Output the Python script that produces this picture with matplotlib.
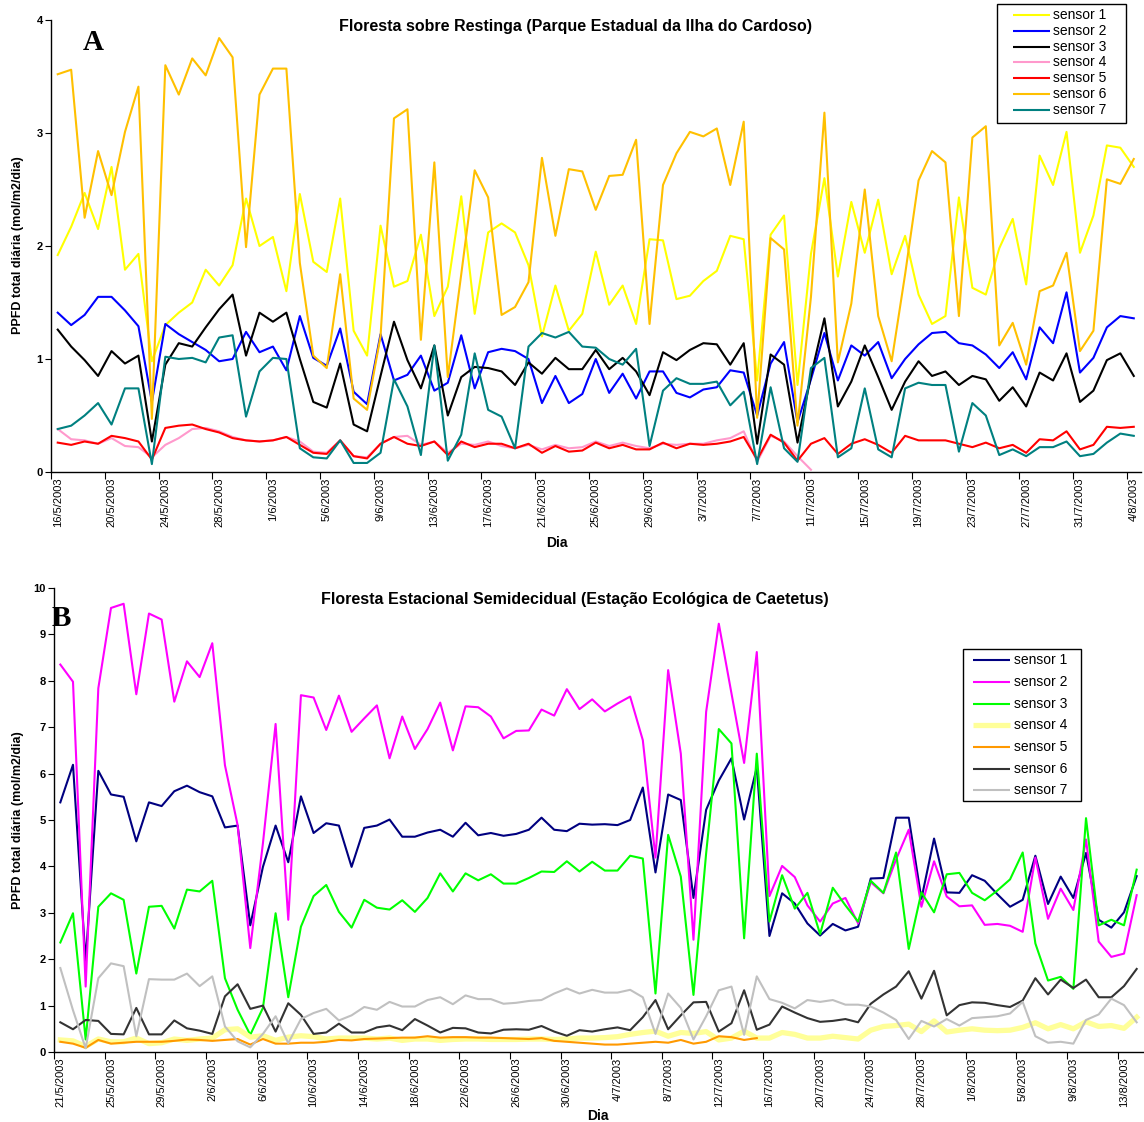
import matplotlib
matplotlib.use('Agg')
import matplotlib.pyplot as plt
from matplotlib.patches import Rectangle
import numpy as np
import pandas as pd

plt.rcParams['font.family'] = ['Liberation Sans', 'DejaVu Sans']

NAN = np.nan

# ---- Panel A: Floresta sobre Restinga, 16/5/2003 .. 4/8/2003 ----
dates_a = pd.date_range('2003-05-16', '2003-08-04', freq='D')

a_s1 = [1.92, 2.17, 2.47, 2.15, 2.70, 1.79, 1.93, 0.98, 1.30, 1.41, 1.50, 1.79, 1.65, 1.83, 2.42, 2.00,
        2.08, 1.60, 2.46, 1.86, 1.77, 2.42, 1.25, 1.03, 2.18, 1.64, 1.69, 2.10,
        1.38, 1.64, 2.44, 1.40, 2.12, 2.20, 2.12, 1.83, 1.20, 1.65, 1.25, 1.40, 1.95, 1.48, 1.65, 1.31,
        2.06, 2.05, 1.53, 1.56, 1.69, 1.78, 2.09, 2.06, 0.81, 2.10,
        2.27, 0.77, 1.93, 2.60, 1.73, 2.39, 1.94, 2.41, 1.75, 2.09, 1.57, 1.31, 1.38, 2.43, 1.63, 1.57,
        1.98, 2.24, 1.66, 2.80, 2.54, 3.01, 1.94, 2.27, 2.89, 2.87, 2.70]
a_s2 = [1.41, 1.30, 1.39, 1.55, 1.55, 1.43, 1.29, 0.62, 1.31, 1.22, 1.15, 1.08, 0.98, 1.00, 1.24, 1.06,
        1.11, 0.90, 1.38, 1.01, 0.94, 1.27, 0.71, 0.60, 1.22, 0.81, 0.86, 1.03,
        0.72, 0.79, 1.21, 0.74, 1.06, 1.09, 1.07, 1.00, 0.61, 0.85, 0.61, 0.69, 1.00, 0.70, 0.87, 0.65,
        0.89, 0.89, 0.70, 0.66, 0.73, 0.75, 0.90, 0.88, 0.50, 0.96,
        1.15, 0.44, 0.82, 1.23, 0.81, 1.12, 1.03, 1.15, 0.83, 1.00, 1.13, 1.23, 1.24, 1.14, 1.12, 1.04,
        0.92, 1.06, 0.82, 1.28, 1.14, 1.59, 0.88, 1.01, 1.28, 1.38, 1.36]
a_s3 = [1.26, 1.11, 0.99, 0.85, 1.07, 0.96, 1.03, 0.27, 0.95, 1.14, 1.11, 1.28, 1.44, 1.57, 1.03, 1.41,
        1.33, 1.41, 1.00, 0.62, 0.57, 0.96, 0.42, 0.36, 0.85, 1.33, 0.99, 0.74,
        1.12, 0.50, 0.84, 0.93, 0.92, 0.89, 0.77, 0.97, 0.87, 1.01, 0.91, 0.91, 1.08, 0.91, 1.01, 0.89,
        0.68, 1.06, 0.99, 1.08, 1.14, 1.13, 0.95, 1.14, 0.25, 1.04,
        0.95, 0.26, 0.85, 1.36, 0.58, 0.80, 1.12, 0.84, 0.55, 0.80, 0.98, 0.85, 0.89, 0.77, 0.85, 0.82,
        0.63, 0.75, 0.58, 0.88, 0.81, 1.05, 0.62, 0.72, 0.99, 1.05, 0.85]
a_s4 = [0.38, 0.29, 0.28, 0.25, 0.30, 0.23, 0.22, 0.13, 0.24, 0.30, 0.38, 0.39, 0.36, 0.31, 0.28, 0.27,
        0.28, 0.31, 0.27, 0.18, 0.17, 0.28, 0.14, 0.13, 0.25, 0.31, 0.32, 0.24,
        0.27, 0.17, 0.25, 0.24, 0.27, 0.23, 0.21, 0.24, 0.20, 0.24, 0.21, 0.22, 0.27, 0.23, 0.26, 0.23,
        0.21, 0.25, 0.24, 0.25, 0.25, 0.28, 0.30, 0.36, 0.09, 0.32,
        0.27, 0.14, 0.02] + [NAN] * 24
a_s5 = [0.26, 0.24, 0.27, 0.25, 0.32, 0.30, 0.27, 0.11, 0.39, 0.41, 0.42, 0.38, 0.35, 0.30, 0.28, 0.27,
        0.28, 0.31, 0.24, 0.17, 0.16, 0.28, 0.14, 0.12, 0.25, 0.31, 0.25, 0.23,
        0.27, 0.15, 0.27, 0.22, 0.25, 0.25, 0.21, 0.25, 0.17, 0.23, 0.18, 0.19, 0.26, 0.21, 0.24, 0.20,
        0.20, 0.26, 0.21, 0.25, 0.24, 0.25, 0.27, 0.31, 0.11, 0.33,
        0.26, 0.10, 0.25, 0.30, 0.16, 0.25, 0.29, 0.24, 0.17, 0.32, 0.28, 0.28, 0.28, 0.25, 0.22, 0.26,
        0.21, 0.24, 0.17, 0.29, 0.28, 0.36, 0.20, 0.24, 0.40, 0.39, 0.40]
a_s6 = [3.52, 3.56, 2.25, 2.84, 2.45, 3.01, 3.41, 0.47, 3.60, 3.34, 3.66, 3.51, 3.84, 3.67, 1.99, 3.34,
        3.57, 3.57, 1.85, 1.03, 0.92, 1.75, 0.65, 0.55, 1.20, 3.13, 3.21, 1.17,
        2.74, 0.84, 1.75, 2.67, 2.43, 1.39, 1.46, 1.68, 2.78, 2.09, 2.68, 2.66, 2.32, 2.62, 2.63, 2.94,
        1.31, 2.54, 2.82, 3.01, 2.97, 3.04, 2.54, 3.10, 0.48, 2.07,
        1.97, 0.41, 1.55, 3.18, 0.97, 1.49, 2.50, 1.38, 0.98, 1.75, 2.58, 2.84, 2.74, 1.38, 2.96, 3.06,
        1.12, 1.32, 0.95, 1.60, 1.65, 1.94, 1.07, 1.25, 2.59, 2.55, 2.77]
a_s7 = [0.38, 0.41, 0.50, 0.61, 0.42, 0.74, 0.74, 0.07, 1.02, 1.00, 1.01, 0.97, 1.19, 1.21, 0.49, 0.89,
        1.01, 1.00, 0.21, 0.13, 0.12, 0.28, 0.08, 0.08, 0.17, 0.82, 0.58, 0.15,
        1.12, 0.10, 0.33, 1.05, 0.55, 0.49, 0.21, 1.11, 1.23, 1.19, 1.24, 1.11, 1.10, 1.00, 0.95, 1.09,
        0.23, 0.72, 0.83, 0.78, 0.78, 0.80, 0.59, 0.71, 0.07, 0.75,
        0.21, 0.09, 0.92, 1.01, 0.13, 0.21, 0.74, 0.20, 0.13, 0.74, 0.79, 0.77, 0.77, 0.18, 0.61, 0.50,
        0.15, 0.20, 0.14, 0.22, 0.22, 0.27, 0.14, 0.16, 0.26, 0.34, 0.32]

# ---- Panel B: Floresta Estacional Semidecidual, 21/5/2003 .. 14/8/2003 ----
dates_b = pd.date_range('2003-05-21', '2003-08-14', freq='D')

b_s1 = [5.38, 6.19, 1.95, 6.06, 5.55, 5.50, 4.54, 5.38, 5.30, 5.62, 5.74, 5.60, 5.51, 4.84, 4.88, 2.73,
        3.99, 4.88, 4.09, 5.51, 4.72, 4.93, 4.88, 3.99, 4.83, 4.88, 5.01, 4.64, 4.64,
        4.73, 4.79, 4.64, 4.94, 4.67, 4.72, 4.66, 4.70, 4.79, 5.05, 4.79, 4.76, 4.92, 4.90, 4.91, 4.89,
        5.00, 5.70, 3.87, 5.55, 5.43, 3.32, 5.22, 5.85, 6.33, 5.01, 6.13,
        2.50, 3.42, 3.20, 2.77, 2.51, 2.76, 2.62, 2.70, 3.74, 3.75, 5.05, 5.05, 3.30, 4.60, 3.44, 3.43,
        3.81, 3.69, 3.40, 3.13, 3.28, 4.23, 3.19, 3.78, 3.32, 4.29, 2.85, 2.68, 3.01, 3.79]
b_s2 = [8.35, 7.98, 1.41, 7.84, 9.57, 9.66, 7.71, 9.45, 9.32, 7.55, 8.42, 8.08, 8.81, 6.18, 4.89, 2.24,
        4.50, 7.07, 2.85, 7.69, 7.64, 6.94, 7.68, 6.90, 7.19, 7.47, 6.33, 7.23, 6.53,
        6.96, 7.53, 6.50, 7.45, 7.43, 7.23, 6.76, 6.92, 6.93, 7.38, 7.25, 7.82, 7.39, 7.60, 7.34, 7.51,
        7.66, 6.72, 4.19, 8.23, 6.43, 2.42, 7.33, 9.23, 7.73, 6.23, 8.62,
        3.36, 4.01, 3.77, 3.16, 2.81, 3.20, 3.32, 2.77, 3.66, 3.42, 4.15, 4.79, 3.13, 4.11, 3.35, 3.14,
        3.16, 2.74, 2.76, 2.72, 2.59, 4.19, 2.87, 3.52, 3.06, 4.58, 2.38, 2.05, 2.12, 3.38]
b_s3 = [2.36, 2.99, 0.27, 3.13, 3.42, 3.28, 1.69, 3.13, 3.15, 2.66, 3.50, 3.46, 3.69, 1.59, 0.91, 0.37,
        0.95, 2.99, 1.18, 2.70, 3.36, 3.60, 3.02, 2.68, 3.28, 3.11, 3.07, 3.27, 3.02,
        3.32, 3.85, 3.46, 3.85, 3.70, 3.83, 3.63, 3.63, 3.75, 3.89, 3.88, 4.11, 3.89, 4.10, 3.91, 3.91,
        4.23, 4.17, 1.26, 4.68, 3.78, 1.23, 4.28, 6.96, 6.65, 2.45, 6.43,
        2.81, 3.81, 3.09, 3.43, 2.54, 3.54, 3.16, 2.81, 3.69, 3.43, 4.30, 2.22, 3.44, 3.01, 3.83, 3.86,
        3.43, 3.27, 3.48, 3.72, 4.30, 2.34, 1.54, 1.62, 1.36, 5.04, 2.73, 2.85, 2.73, 3.93]
b_s4 = [0.26, 0.24, 0.12, 0.28, 0.22, 0.22, 0.30, 0.18, 0.20, 0.28, 0.25, 0.28, 0.30, 0.48, 0.50, 0.32,
        0.35, 0.25, 0.32, 0.35, 0.33, 0.28, 0.30, 0.30, 0.30, 0.28, 0.30, 0.25, 0.28,
        0.28, 0.25, 0.27, 0.28, 0.28, 0.27, 0.27, 0.27, 0.28, 0.28, 0.27, 0.28, 0.30, 0.30, 0.31, 0.33,
        0.38, 0.42, 0.45, 0.34, 0.42, 0.40, 0.44, 0.26, 0.30, 0.45, 0.30,
        0.30, 0.42, 0.38, 0.30, 0.30, 0.34, 0.31, 0.28, 0.47, 0.55, 0.57, 0.60, 0.44, 0.67, 0.43, 0.47,
        0.50, 0.47, 0.46, 0.47, 0.53, 0.63, 0.50, 0.59, 0.50, 0.65, 0.55, 0.57, 0.51, 0.75]
b_s5 = [0.22, 0.18, 0.09, 0.26, 0.18, 0.20, 0.22, 0.22, 0.22, 0.24, 0.27, 0.26, 0.24, 0.26, 0.28, 0.16,
        0.28, 0.18, 0.18, 0.20, 0.20, 0.22, 0.26, 0.25, 0.28, 0.29, 0.30, 0.31, 0.31,
        0.34, 0.31, 0.32, 0.32, 0.31, 0.31, 0.30, 0.29, 0.28, 0.30, 0.24, 0.22, 0.20, 0.18, 0.16, 0.16,
        0.18, 0.20, 0.22, 0.20, 0.26, 0.18, 0.22, 0.34, 0.32, 0.26, 0.30] + [NAN] * 30
b_s6 = [0.64, 0.49, 0.69, 0.67, 0.39, 0.38, 0.95, 0.38, 0.38, 0.68, 0.51, 0.46, 0.39, 1.20, 1.46, 0.93,
        1.00, 0.44, 1.05, 0.80, 0.39, 0.42, 0.61, 0.42, 0.42, 0.53, 0.57, 0.47, 0.71,
        0.57, 0.42, 0.52, 0.51, 0.42, 0.40, 0.48, 0.49, 0.48, 0.56, 0.44, 0.35, 0.47, 0.44, 0.49, 0.53,
        0.47, 0.75, 1.12, 0.49, 0.79, 1.07, 1.08, 0.44, 0.62, 1.33, 0.48,
        0.59, 0.98, 0.85, 0.73, 0.65, 0.67, 0.71, 0.64, 1.04, 1.24, 1.41, 1.74, 1.15, 1.75, 0.79, 1.01,
        1.07, 1.06, 1.01, 0.97, 1.11, 1.59, 1.24, 1.56, 1.38, 1.56, 1.18, 1.18, 1.42, 1.79]
b_s7 = [1.81, 0.90, 0.08, 1.59, 1.91, 1.85, 0.34, 1.57, 1.56, 1.56, 1.69, 1.42, 1.63, 0.55, 0.23, 0.10,
        0.39, 0.77, 0.19, 0.71, 0.84, 0.93, 0.68, 0.79, 0.97, 0.91, 1.08, 0.98, 0.98,
        1.12, 1.18, 1.03, 1.22, 1.14, 1.14, 1.04, 1.06, 1.10, 1.12, 1.26, 1.37, 1.26, 1.34, 1.28, 1.28,
        1.34, 1.18, 0.39, 1.26, 0.95, 0.27, 0.77, 1.33, 1.41, 0.37, 1.63,
        1.14, 1.06, 0.94, 1.12, 1.08, 1.12, 1.02, 1.02, 0.98, 0.85, 0.69, 0.28, 0.67, 0.55, 0.71, 0.57,
        0.73, 0.75, 0.77, 0.83, 1.08, 0.34, 0.20, 0.22, 0.18, 0.69, 0.81, 1.15, 1.01, 0.64]

labels = ['sensor 1', 'sensor 2', 'sensor 3', 'sensor 4', 'sensor 5', 'sensor 6', 'sensor 7']
colors_a = ['#FFFF00', '#0000FF', '#000000', '#FF99CC', '#FF0000', '#FFC000', '#008080']
colors_b = ['#000080', '#FF00FF', '#00FF00', '#FFFF99', '#FF9900', '#333333', '#C0C0C0']
widths_a = [1.5] * 7
widths_b = [1.5, 1.5, 1.5, 3.8, 1.5, 1.5, 1.5]

FIG_W, FIG_H = 1144, 1122


def _setup_axes(ax, dates, ymax):
    n = len(dates)
    x = np.arange(n)
    ax.set_xlim(-0.5, n - 0.5)
    ax.set_ylim(0, ymax)
    for side in ('top', 'right'):
        ax.spines[side].set_visible(False)
    for side in ('left', 'bottom'):
        ax.spines[side].set_linewidth(1.0)
    ax.set_yticks(range(0, ymax + 1))
    ax.set_yticklabels([str(v) for v in range(0, ymax + 1)], fontsize=8, fontweight='bold')
    ax.tick_params(axis='y', length=4, width=0.8, pad=2)

    # tick marks sit between categories, labels under every 4th day
    lab_pos = x[::4]
    ax.set_xticks(lab_pos - 0.5)
    ax.set_xticklabels([])
    ax.tick_params(axis='x', which='major', length=5, width=0.8)
    ax.set_xticks(lab_pos, minor=True)
    ax.set_xticklabels([f'{d.day}/{d.month}/{d.year}' for d in dates[::4]],
                       minor=True, rotation=90, fontsize=8)
    ax.tick_params(axis='x', which='minor', length=0, pad=4)
    return x


def _legend_box(ax, colors, widths, box, rows, hx0, hx1, tx):
    # box = (x0, y0, x1, y1) in axes coords, rows = (y_first, y_last)
    x0, y0, x1, y1 = box
    ax.add_patch(Rectangle((x0, y0), x1 - x0, y1 - y0, transform=ax.transAxes,
                           facecolor='white', edgecolor='black', lw=1.0,
                           clip_on=False, zorder=5))
    ys = np.linspace(rows[0], rows[1], len(labels))
    for y, col, lw, lab in zip(ys, colors, widths, labels):
        ax.plot([hx0, hx1], [y, y], transform=ax.transAxes, color=col, lw=lw,
                clip_on=False, zorder=6, solid_capstyle='butt')
        ax.text(tx, y, lab, transform=ax.transAxes, ha='left', va='center',
                fontsize=10, zorder=6)


fig = plt.figure(figsize=(FIG_W / 100, FIG_H / 100), dpi=100)

# Panel A
ax_a = fig.add_axes([51 / FIG_W, 1 - 472 / FIG_H, 1089.5 / FIG_W, 452 / FIG_H])
x_a = _setup_axes(ax_a, dates_a, 4)
for vals, col, lw in zip([a_s1, a_s2, a_s3, a_s4, a_s5, a_s6, a_s7], colors_a, widths_a):
    ax_a.plot(x_a, vals, color=col, lw=lw)
ax_a.text(0.481, 0.985, 'Floresta sobre Restinga (Parque Estadual da Ilha do Cardoso)',
          transform=ax_a.transAxes, ha='center', va='center', fontsize=11.5, fontweight='bold')
ax_a.text(0.0385, 0.951, 'A', transform=ax_a.transAxes, ha='center', va='center',
          fontsize=21, fontweight='bold', family=['Liberation Serif', 'DejaVu Serif'])
_legend_box(ax_a, colors_a, widths_a, (0.8683, 0.7721, 0.9867, 1.0354),
            (1.0111, 0.8014), 0.8830, 0.9169, 0.9197)

# Panel B
ax_b = fig.add_axes([54 / FIG_W, 1 - 1052 / FIG_H, 1089 / FIG_W, 464 / FIG_H])
x_b = _setup_axes(ax_b, dates_b, 10)
for vals, col, lw in zip([b_s1, b_s2, b_s3, b_s4, b_s5, b_s6, b_s7], colors_b, widths_b):
    ax_b.plot(x_b, vals, color=col, lw=lw)
ax_b.text(0.478, 0.975, 'Floresta Estacional Semidecidual (Estação Ecológica de Caetetus)',
          transform=ax_b.transAxes, ha='center', va='center', fontsize=11.5, fontweight='bold')
ax_b.text(0.0068, 0.935, 'B', transform=ax_b.transAxes, ha='center', va='center',
          fontsize=21, fontweight='bold', family=['Liberation Serif', 'DejaVu Serif'])
_legend_box(ax_b, colors_b, widths_b, (0.8347, 0.540, 0.9431, 0.869),
            (0.844, 0.564), 0.8439, 0.8779, 0.8815)

# axis titles
for yc, xc_dia, yc_dia in [(245, 557, 543), (820, 598, 1116)]:
    fig.text(18 / FIG_W, 1 - yc / FIG_H, 'PPFD total diária (mol/m2/dia)', rotation=90,
             ha='center', va='center', fontsize=9, fontweight='bold')
    fig.text(xc_dia / FIG_W, 1 - yc_dia / FIG_H, 'Dia', ha='center', va='center',
             fontsize=10, fontweight='bold')

fig.savefig('out.png', dpi=100)
